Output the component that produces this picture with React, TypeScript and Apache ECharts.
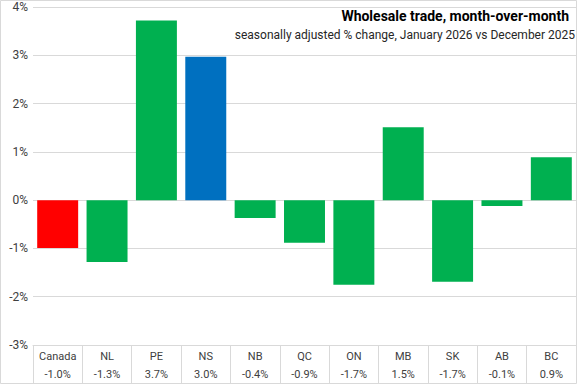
import React, { useEffect, useRef } from "react";
import * as echarts from "echarts";

const categories = ["Canada", "NL", "PE", "NS", "NB", "QC", "ON", "MB", "SK", "AB", "BC"];
const values = [-0.99, -1.28, 3.72, 2.97, -0.37, -0.88, -1.75, 1.51, -1.69, -0.12, 0.89];
const valueLabels = ["-1.0%", "-1.3%", "3.7%", "3.0%", "-0.4%", "-0.9%", "-1.7%", "1.5%", "-1.7%", "-0.1%", "0.9%"];
const barColors = ["#ff0000", "#00b050", "#00b050", "#0070c0", "#00b050", "#00b050", "#00b050", "#00b050", "#00b050", "#00b050", "#00b050"];
const yTicks = [-3, -2, -1, 0, 1, 2, 3, 4];

const titleText = "Wholesale trade, month-over-month";
const subtitleText = "seasonally adjusted % change, January 2026 vs December 2025";

export default function App() {
  const ref = useRef<HTMLDivElement>(null);
  useEffect(() => {
    document.body.style.margin = "0";
    const chart = echarts.init(ref.current!, undefined, { renderer: "svg" });
    const font = "Roboto, 'Noto Sans', sans-serif";
    chart.setOption({
      animation: false,
      backgroundColor: "#ffffff",
      textStyle: { fontFamily: font },
      grid: { left: 33, right: 1, top: 7, bottom: 39, containLabel: false },
      xAxis: {
        type: "category",
        data: categories.map((c, i) => c + "\n" + valueLabels[i]),
        axisLine: { onZero: false, lineStyle: { color: "#d9d9d9" } },
        axisTick: { show: true, length: 38, lineStyle: { color: "#d9d9d9" } },
        axisLabel: { color: "#404040", fontSize: 11, lineHeight: 18, margin: 2, interval: 0, fontFamily: font },
      },
      yAxis: {
        type: "value",
        min: yTicks[0],
        max: yTicks[yTicks.length - 1],
        interval: 1,
        axisLine: { show: false },
        axisTick: { show: false },
        splitLine: { lineStyle: { color: "#d9d9d9" } },
        axisLabel: { formatter: "{value}%", color: "#404040", fontSize: 12, margin: 5, fontFamily: font },
      },
      series: [
        {
          type: "bar",
          barCategoryGap: "17%",
          data: values.map((v, i) => ({ value: v, itemStyle: { color: barColors[i] } })),
        },
      ],
      graphic: [
        {
          type: "rect",
          shape: { x: 0.5, y: 0.5, width: 576, height: 383 },
          style: { fill: "none", stroke: "#d9d9d9", lineWidth: 1 },
          silent: true,
          z: 10,
        },
        {
          type: "text",
          x: 569,
          y: 16,
          style: {
            text: titleText,
            align: "right",
            verticalAlign: "middle",
            fontSize: 14,
            fontWeight: "bold",
            fill: "#000000",
            fontFamily: font,
          },
          z: 10,
        },
        {
          type: "text",
          x: 575,
          y: 35,
          style: {
            text: subtitleText,
            align: "right",
            verticalAlign: "middle",
            fontSize: 12,
            fill: "#262626",
            fontFamily: font,
          },
          z: 10,
        },
      ],
    });
    return () => chart.dispose();
  }, []);
  return <div ref={ref} style={{ position: "absolute", left: 0, top: 0, width: 577, height: 384 }} />;
}
